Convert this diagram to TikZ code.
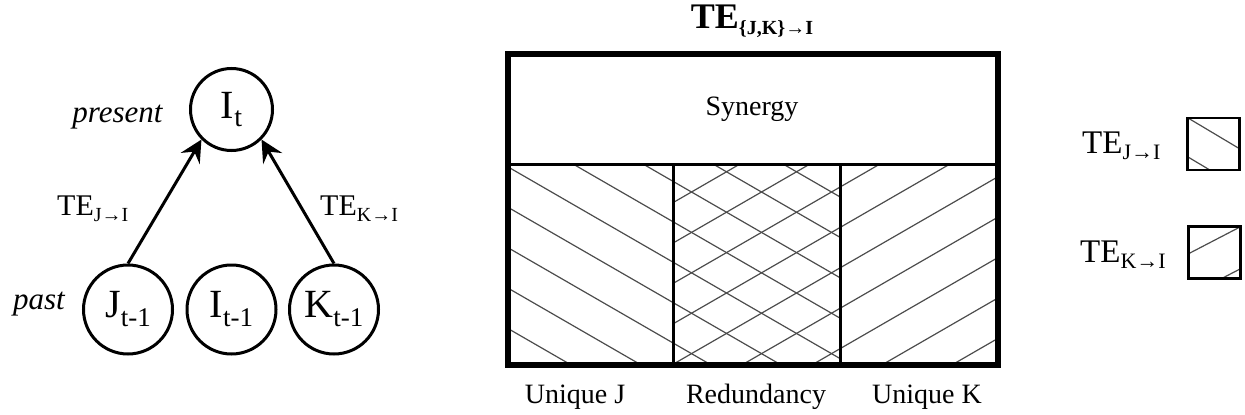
\documentclass[tikz,border=0pt]{standalone}
\usepackage{fontspec}
\setmainfont{Liberation Serif}
\usetikzlibrary{arrows.meta}
\newcommand{\fsz}[1]{\fontsize{#1}{#1}\selectfont}
\newcommand{\lowsub}[3]{\raisebox{-#2}{\fsz{#1}#3}}
\tikzset{
  var/.style={circle, draw, line width=3pt, inner sep=0pt, minimum size=#1},
  arr/.style={line width=3pt, -{Stealth[length=22pt,width=22pt,inset=8pt]}},
  txt/.style={inner sep=0pt, anchor=base},
  hatch/.style={line width=1.2pt, black!70},
  frame/.style={line width=6pt},
  divider/.style={line width=3pt},
  legendbox/.style={draw, line width=2.5pt}
}
\begin{document}
\begin{tikzpicture}[x=1pt,y=-1pt]
\useasboundingbox (0,0) rectangle (1245,415);

% ---- left: graph ----
\node[var=82pt] (It) at (231.5,109.5) {\fsz{40}I\lowsub{28}{8pt}{t}};
\node[var=89pt] (Jp) at (128,309.5) {\fsz{40}J\lowsub{27}{9pt}{t-1}};
\node[var=89pt] (Ip) at (231.5,309.5) {\fsz{40}I\lowsub{27}{9pt}{t-1}};
\node[var=89pt] (Kp) at (334,309.5) {\fsz{40}K\lowsub{27}{9pt}{t-1}};
\draw[arr] (Jp.north) -- (It.225);
\draw[arr] (Kp.north) -- (It.315);
\node[txt] (present) at (117.5,122) {\fsz{31}\itshape present};
\node[txt] (past) at (39,309) {\fsz{31}\itshape past};
\node[txt, anchor=base west] (teJ) at (57,215) {\fsz{30}TE\lowsub{20}{6pt}{J→I}};
\node[txt, anchor=base west] (teK) at (320,215) {\fsz{30}TE\lowsub{20}{6pt}{K→I}};

% ---- right: decomposition box ----
\node[txt] (title) at (752,28) {\bfseries\fsz{36}TE\lowsub{20}{6pt}{\{J,K\}→I}};
\begin{scope}
  \clip (508,164) rectangle (673,365);
  \foreach \k in {-9,...,3} {
    \pgfmathsetmacro{\xo}{573+70*\k}
    \draw[hatch] (\xo-400,164-230.9) -- (\xo+400,164+230.9);
  }
\end{scope}
\begin{scope}
  \clip (673,164) rectangle (840,365);
  \foreach \k in {-9,...,5} {
    \pgfmathsetmacro{\xo}{573+70*\k}
    \draw[hatch] (\xo-400,164-230.9) -- (\xo+400,164+230.9);
  }
  \foreach \m in {-6,...,8} {
    \pgfmathsetmacro{\xo}{880+70*\m}
    \draw[hatch] (\xo-400,164+230.9) -- (\xo+400,164-230.9);
  }
\end{scope}
\begin{scope}
  \clip (840,164) rectangle (998,365);
  \foreach \m in {-3,...,8} {
    \pgfmathsetmacro{\xo}{880+70*\m}
    \draw[hatch] (\xo-400,164+230.9) -- (\xo+400,164-230.9);
  }
\end{scope}
\coordinate (dl) at (508,164);
\coordinate (dr) at (998,164);
\coordinate (v1t) at (673,164);
\coordinate (v1b) at (673,365);
\coordinate (v2t) at (840,164);
\coordinate (v2b) at (840,365);
\draw[divider] (dl) -- (dr);
\draw[divider] (v1t) -- (v1b);
\draw[divider] (v2t) -- (v2b);
\node[frame, draw, inner sep=0pt, minimum width=490pt, minimum height=311pt] (outer) at (753,209.5) {};
\node[txt] (syn) at (752,115) {\fsz{28}Synergy};
\node[txt] (uj) at (575,403) {\fsz{28}Unique J};
\node[txt] (red) at (756,403) {\fsz{28}Redundancy};
\node[txt] (uk) at (927,403) {\fsz{28}Unique K};

% ---- legend ----
\node[txt, anchor=base west] (legJ) at (1082,153) {\fsz{33}TE\lowsub{22}{6pt}{J→I}};
\node[txt, anchor=base west] (legK) at (1080,262) {\fsz{33}TE\lowsub{22}{6pt}{K→I}};
\begin{scope}
  \clip (1187.5,118) rectangle (1239.5,170);
  \draw[hatch] (1188,118) -- (1240,149);
  \draw[hatch] (1188,157) -- (1240,188);
\end{scope}
\begin{scope}
  \clip (1188.5,226.5) rectangle (1240.5,278.5);
  \draw[hatch] (1188,254) -- (1240,227);
  \draw[hatch] (1188,296) -- (1240,269);
\end{scope}
\node[legendbox, inner sep=0pt, minimum width=52pt, minimum height=52pt] (boxJ) at (1213.5,144) {};
\node[legendbox, inner sep=0pt, minimum width=52pt, minimum height=52pt] (boxK) at (1214.5,252.5) {};
\end{tikzpicture}
\end{document}
